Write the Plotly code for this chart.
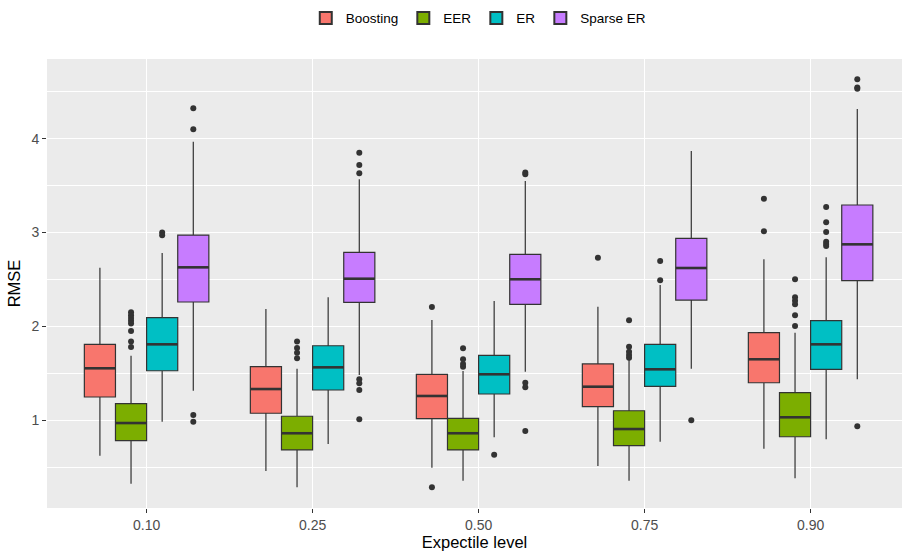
import plotly.graph_objects as go

levels = ["0.10", "0.25", "0.50", "0.75", "0.90"]
series = ["Boosting", "EER", "ER", "Sparse ER"]
colors = ["#F8766D", "#7CAE00", "#00BFC4", "#C77CFF"]

# per-series stats, one value per expectile level
lower = {
    "Boosting":  [0.623, 0.460, 0.495, 0.513, 0.698],
    "EER":       [0.325, 0.286, 0.357, 0.357, 0.382],
    "ER":        [0.985, 0.748, 0.819, 0.772, 0.798],
    "Sparse ER": [1.315, 1.482, 1.518, 1.550, 1.437],
}
q1 = {
    "Boosting":  [1.248, 1.075, 1.017, 1.145, 1.400],
    "EER":       [0.783, 0.684, 0.684, 0.730, 0.825],
    "ER":        [1.528, 1.323, 1.280, 1.362, 1.543],
    "Sparse ER": [2.260, 2.257, 2.235, 2.281, 2.487],
}
median = {
    "Boosting":  [1.554, 1.333, 1.259, 1.358, 1.650],
    "EER":       [0.971, 0.862, 0.862, 0.907, 1.032],
    "ER":        [1.809, 1.564, 1.490, 1.543, 1.809],
    "Sparse ER": [2.629, 2.508, 2.502, 2.622, 2.874],
}
q3 = {
    "Boosting":  [1.809, 1.571, 1.490, 1.600, 1.933],
    "EER":       [1.177, 1.043, 1.021, 1.102, 1.294],
    "ER":        [2.093, 1.794, 1.692, 1.809, 2.061],
    "Sparse ER": [2.973, 2.789, 2.768, 2.938, 3.293],
}
upper = {
    "Boosting":  [2.625, 2.185, 2.068, 2.210, 2.715],
    "EER":       [1.688, 1.550, 1.525, 1.650, 1.933],
    "ER":        [2.782, 2.310, 2.270, 2.441, 2.736],
    "Sparse ER": [3.967, 3.567, 3.548, 3.868, 4.315],
}
outliers = {
    "Boosting":  [[], [], [2.207, 0.286], [2.732], [3.360, 3.013]],
    "EER":       [[2.15, 2.12, 2.09, 2.06, 2.03, 1.95, 1.84, 1.78],
                  [1.84, 1.77, 1.72, 1.66],
                  [1.767, 1.650, 1.600, 1.571],
                  [2.065, 1.784, 1.731, 1.695, 1.667],
                  [2.502, 2.310, 2.274, 2.235, 2.118, 2.004]],
    "ER":        [[3.00, 2.97], [], [0.634], [2.696, 2.491],
                  [3.272, 3.109, 3.005, 2.902, 2.877, 2.856]],
    "Sparse ER": [[4.323, 4.099, 1.056, 0.985],
                  [3.850, 3.719, 3.630, 1.437, 1.394, 1.323, 1.011],
                  [3.640, 3.620, 1.400, 1.351, 0.886],
                  [1.000],
                  [4.632, 4.545, 4.530, 0.936]],
}

DODGE = 0.75
n = len(series)
bw = DODGE / n
dark = "#333333"

fig = go.Figure()
for si, (name, col) in enumerate(zip(series, colors)):
    pos = [li + 1 + (si - (n - 1) / 2) * bw for li in range(len(levels))]
    fig.add_trace(go.Box(
        x=pos, q1=q1[name], median=median[name], q3=q3[name],
        lowerfence=lower[name], upperfence=upper[name],
        width=bw, fillcolor=col, line=dict(color=dark, width=1.2),
        whiskerwidth=0, boxpoints=False, name=name, legendgroup=name,
        hoverinfo="skip",
    ))
    mx, my = [], []
    for p, m in zip(pos, median[name]):
        mx += [p - bw / 2, p + bw / 2, None]
        my += [m, m, None]
    fig.add_trace(go.Scatter(x=mx, y=my, mode="lines",
                             line=dict(color=dark, width=2.6),
                             showlegend=False, hoverinfo="skip"))
    ox, oy = [], []
    for p, vals in zip(pos, outliers[name]):
        ox += [p] * len(vals)
        oy += vals
    fig.add_trace(go.Scatter(x=ox, y=oy, mode="markers",
                             marker=dict(color=dark, size=6),
                             showlegend=False, hoverinfo="skip"))

fig.update_layout(
    width=902, height=553,
    margin=dict(l=47, r=0, t=59, b=45),
    paper_bgcolor="white", plot_bgcolor="#EBEBEB",
    boxmode="overlay",
    font=dict(family="Liberation Sans, Arial, sans-serif", color="black"),
    legend=dict(orientation="h", x=0.505, xanchor="center", y=0.995,
                yanchor="top", yref="container", font=dict(size=13.5),
                traceorder="normal", itemsizing="constant", itemwidth=30),
    xaxis=dict(
        range=[0.4, 0.4 + 855 / 166], tickvals=list(range(1, len(levels) + 1)),
        ticktext=levels, showgrid=True, gridcolor="white", gridwidth=1.2,
        zeroline=False, ticks="outside", ticklen=4, tickcolor=dark,
        tickfont=dict(size=14, color="#4D4D4D"),
        title=dict(text="Expectile level", font=dict(size=16.5), standoff=2),
    ),
    yaxis=dict(
        range=[0.066, 4.848], tickvals=[1, 2, 3, 4],
        showgrid=True, gridcolor="white", gridwidth=1.2, zeroline=False,
        ticks="outside", ticklen=4, tickcolor=dark,
        tickfont=dict(size=14, color="#4D4D4D"),
        minor=dict(tickvals=[0.5, 1.5, 2.5, 3.5, 4.5], showgrid=True,
                   gridcolor="white", gridwidth=0.6, ticks=""),
        title=dict(text="RMSE", font=dict(size=16.5), standoff=6),
    ),
)

fig.write_html("out.html")
